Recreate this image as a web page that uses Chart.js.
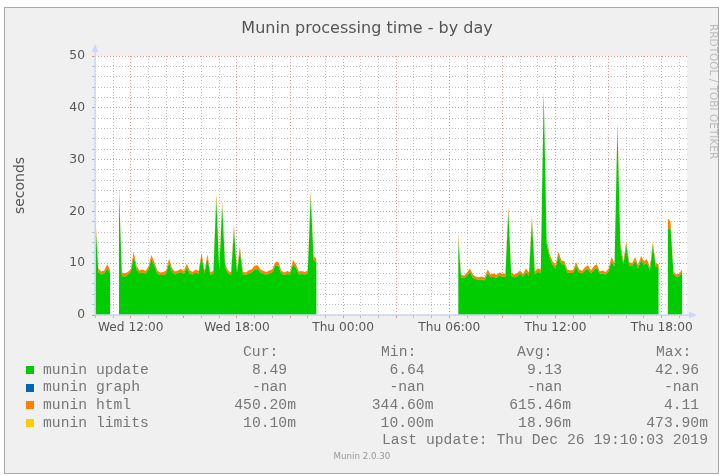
<!DOCTYPE html>
<html>
<head>
<meta charset="utf-8">
<script src="https://cdn.jsdelivr.net/npm/chart.js@4/dist/chart.umd.min.js"></script>
<style>
  body { margin: 0; background: #fff; }
  #page { position: relative; width: 719px; height: 476px; overflow: hidden; }
  #frame { position: absolute; left: 4px; top: 7px; width: 713px; height: 465px; background: #f0f0f0; border: 1px solid #a8a8a8; }
  canvas { position: absolute; left: 0; top: 0; }
  .txt { position: absolute; white-space: pre; color: #666; }
  .title { left: 0; width: 734px; top: 18px; text-align: center; font: 16px 'DejaVu Sans'; color: #555; }
  .mono { font: 14.7px 'Liberation Mono'; line-height: 17px; color: #777; }
  .box { position: absolute; width: 8px; height: 8px; }
  .wm { font: 10.5px 'DejaVu Sans'; color: #bbb; line-height: 11px; transform-origin: 0 0; transform: rotate(90deg); }
  .ver { font: 8.7px 'DejaVu Sans'; color: #999; }
</style>
</head>
<body>
<div id="page">
  <div id="frame"></div>
  <canvas id="chart" width="719" height="476"></canvas>
  <div class="txt title">Munin processing time - by day</div>
  <div class="txt wm" style="left:719px; top:24px;">RRDTOOL / TOBI OETIKER</div>
  <div id="legend"></div>
</div>
<script>
// 10-minute samples, hours counted from Wed 00:00
const stepH = 1 / 6;
const wedStart = 10;     // Wed 10:00
const thuStart = 30.5;   // Thu 06:30

const seriesNames = ['munin update', 'munin graph', 'munin html', 'munin limits'];
const seriesColors = ['#00CC00', '#0066B3', '#FF8000', '#FFCC00'];

const updateWed = [18.1, 8.3, 7.8, 8.0, 9.0, 8.1, null, null, 24.2, 7.6,
  7.4, 7.8, 8.2, 11.3, 8.7, 8.0, 8.2, 8.0, 8.7, 10.8,
  9.5, 8.0, 7.7, 7.7, 8.0, 10.1, 8.3, 7.8, 8.1, 8.3,
  7.9, 9.2, 8.0, 7.8, 8.2, 7.9, 11.3, 8.0, 10.9, 7.7,
  8.0, 22.3, 8.6, 21.0, 9.1, 8.0, 7.7, 16.4, 8.1, 12.3,
  7.8, 7.7, 8.0, 8.2, 8.8, 8.9, 8.2, 7.9, 7.8, 8.0,
  8.2, 9.5, 9.6, 8.0, 7.7, 7.9, 7.8, 9.8, 9.1, 7.8,
  7.9, 7.8, 8.0, 22.7, 10.6, 10.1];
const updateThu = [14.3, 7.3, 7.1, 7.6, 8.3, 7.2, 6.9, 6.8, 6.9, 6.64,
  8.1, 7.3, 7.4, 7.2, 7.6, 7.4, 7.4, 20.0, 7.6, 7.3,
  7.5, 8.0, 7.4, 8.3, 7.6, 18.0, 7.8, 8.3, 8.2, 42.96,
  13.7, 11.1, 9.7, 9.0, 11.4, 9.8, 9.8, 8.2, 8.1, 8.1,
  9.5, 8.2, 8.0, 8.6, 8.9, 8.0, 8.7, 9.1, 7.9, 8.0,
  7.8, 8.4, 10.4, 9.3, 36.3, 13.1, 9.7, 13.3, 9.5, 9.4,
  10.5, 9.0, 10.6, 9.7, 10.1, 8.6, 13.2, 9.3, 9.2, null,
  null, 16.5, 16.8, 7.9, 7.35, 7.5, 8.49];

const graphWed = [];
const graphThu = [];

const htmlWed = [0.9, 0.7, 0.6, 0.6, 0.8, 0.6, null, null, 0.8, 0.6,
  0.6, 0.5, 0.6, 0.9, 0.7, 0.6, 0.6, 0.5, 0.6, 0.8,
  0.7, 0.6, 0.5, 0.6, 0.6, 0.8, 0.7, 0.6, 0.5, 0.6,
  0.6, 0.7, 0.6, 0.5, 0.6, 0.6, 0.7, 0.6, 0.8, 0.5,
  0.6, 1.2, 0.7, 1.0, 0.7, 0.6, 0.5, 1.0, 0.6, 0.9,
  0.6, 0.5, 0.6, 0.6, 0.7, 0.7, 0.6, 0.6, 0.5, 0.6,
  0.6, 0.7, 0.7, 0.6, 0.5, 0.6, 0.5, 0.8, 0.7, 0.6,
  0.6, 0.5, 0.6, 1.1, 0.8, 0.7];
const htmlThu = [1.5, 0.5, 0.5, 0.6, 0.7, 0.6, 0.5, 0.5, 0.5, 0.6,
  0.7, 0.5, 0.6, 0.5, 0.6, 0.5, 0.6, 0.9, 0.6, 0.5,
  0.6, 0.6, 0.5, 0.7, 0.6, 1.3, 0.6, 0.7, 0.6, 0.44,
  0.8, 0.7, 0.7, 0.6, 0.8, 0.7, 0.6, 0.6, 0.5, 0.6,
  0.7, 0.6, 0.5, 0.6, 0.7, 0.6, 0.7, 0.7, 0.5, 0.6,
  0.5, 0.6, 0.8, 0.7, 1.0, 0.8, 0.7, 0.8, 0.7, 0.6,
  0.7, 0.6, 0.8, 0.7, 0.7, 0.6, 0.9, 0.7, 0.6, null,
  null, 2.2, 1.2, 0.5, 0.45, 0.5, 0.45];

const limitsWed = [0.47, 0.02, 0.01, 0.01, 0.02, 0.01, null, null, 0.03, 0.01,
  0.01, 0.01, 0.02, 0.01, 0.01, 0.01, 0.02, 0.01, 0.01, 0.01,
  0.02, 0.01, 0.01, 0.01, 0.01, 0.02, 0.01, 0.01, 0.01, 0.02,
  0.01, 0.01, 0.01, 0.02, 0.01, 0.01, 0.01, 0.01, 0.02, 0.01,
  0.01, 0.03, 0.01, 0.02, 0.01, 0.01, 0.01, 0.02, 0.01, 0.01,
  0.01, 0.01, 0.02, 0.01, 0.01, 0.01, 0.01, 0.02, 0.01, 0.01,
  0.01, 0.02, 0.01, 0.01, 0.01, 0.01, 0.02, 0.01, 0.01, 0.01,
  0.01, 0.01, 0.02, 0.03, 0.01, 0.01];
const limitsThu = [0.05, 0.01, 0.01, 0.02, 0.01, 0.01, 0.01, 0.01, 0.02, 0.01,
  0.01, 0.01, 0.01, 0.02, 0.01, 0.01, 0.01, 0.03, 0.01, 0.01,
  0.02, 0.01, 0.01, 0.01, 0.01, 0.03, 0.01, 0.02, 0.01, 0.04,
  0.02, 0.01, 0.01, 0.01, 0.02, 0.01, 0.01, 0.01, 0.01, 0.02,
  0.01, 0.01, 0.01, 0.02, 0.01, 0.01, 0.01, 0.01, 0.02, 0.01,
  0.01, 0.01, 0.02, 0.01, 0.03, 0.02, 0.01, 0.02, 0.01, 0.01,
  0.01, 0.01, 0.02, 0.01, 0.01, 0.01, 0.02, 0.01, 0.01, null,
  null, 0.06, 0.04, 0.01, 0.01, 0.01, 0.0101];

// x axis labels (hour of the 2-day window -> text)
const tickHours = [12, 18, 24, 30, 36, 42];
const tickLabels = ['Wed 12:00', 'Wed 18:00', 'Thu 00:00', 'Thu 06:00', 'Thu 12:00', 'Thu 18:00'];

// legend table
const colHeads = ['Cur:', 'Min:', 'Avg:', 'Max:'];
const curValues = ['8.49 ', '-nan ', '450.20m', '10.10m'];
const minValues = ['6.64 ', '-nan ', '344.60m', '10.00m'];
const avgValues = ['9.13 ', '-nan ', '615.46m', '18.96m'];
const maxValues = ['42.96 ', '-nan ', '4.11 ', '473.90m'];
const lastUpdate = 'Last update: Thu Dec 26 19:10:03 2019';

function points(wed, thu) {
  const pts = wed.map((v, i) => ({ x: wedStart + i * stepH, y: v }));
  if (wed.length) pts.push({ x: 27, y: null });   // no samples overnight
  thu.forEach((v, i) => pts.push({ x: thuStart + i * stepH, y: v }));
  return pts;
}

const RED = 'rgba(235,110,110,0.75)';
const GREY = 'rgba(170,170,170,0.75)';
const AXIS = '#CFD6F8';

const munin = {
  id: 'munin',
  beforeDraw(chart) {
    const { ctx, chartArea: a } = chart;
    ctx.save();
    ctx.fillStyle = '#fff';
    ctx.fillRect(a.left, a.top, a.right - a.left, a.bottom - a.top);
    ctx.restore();
  },
  afterDatasetsDraw(chart) {
    const { ctx, chartArea: a } = chart;
    ctx.save();
    ctx.strokeStyle = AXIS;
    ctx.fillStyle = AXIS;
    ctx.lineWidth = 1.5;
    ctx.beginPath();
    ctx.moveTo(a.left, a.bottom);
    ctx.lineTo(a.left, a.top - 6);
    ctx.moveTo(a.left, a.bottom);
    ctx.lineTo(a.right + 3, a.bottom);
    ctx.stroke();
    ctx.beginPath();
    ctx.moveTo(a.left, a.top - 12);
    ctx.lineTo(a.left - 3.5, a.top - 4);
    ctx.lineTo(a.left + 3.5, a.top - 4);
    ctx.fill();
    ctx.beginPath();
    ctx.moveTo(a.right + 10, a.bottom);
    ctx.lineTo(a.right + 2, a.bottom - 3.5);
    ctx.lineTo(a.right + 2, a.bottom + 3.5);
    ctx.fill();
    ctx.restore();
  }
};

Chart.defaults.font.family = 'DejaVu Sans';

new Chart(document.getElementById('chart'), {
  type: 'line',
  data: {
    datasets: [
      { label: seriesNames[0], data: points(updateWed, updateThu), backgroundColor: seriesColors[0], fill: 'origin' },
      { label: seriesNames[1], data: points(graphWed, graphThu), backgroundColor: seriesColors[1], fill: false },
      { label: seriesNames[2], data: points(htmlWed, htmlThu), backgroundColor: seriesColors[2], fill: 0 },
      { label: seriesNames[3], data: points(limitsWed, limitsThu), backgroundColor: seriesColors[3], fill: 2 }
    ]
  },
  options: {
    responsive: false,
    animation: false,
    spanGaps: false,
    elements: { point: { radius: 0 }, line: { borderWidth: 0, tension: 0 } },
    layout: { padding: { left: 12, top: 56, right: 32, bottom: 136 } },
    plugins: { legend: { display: false }, tooltip: { enabled: false } },
    scales: {
      x: {
        type: 'linear',
        min: 9.98,
        max: 43.43,
        afterBuildTicks: s => {
          const t = [];
          for (let h = 10; h <= 43; h++) t.push({ value: h });
          s.ticks = t;
        },
        afterFit: s => { s.height = 25; },
        grid: {
          color: c => (c.tick.value % 3 === 0 ? RED : GREY),
          tickColor: c => (c.tick.value % 3 === 0 ? RED : GREY),
          tickLength: 3
        },
        border: { display: false, dash: [1, 2] },
        ticks: {
          autoSkip: false,
          maxRotation: 0,
          padding: 3,
          color: '#555',
          font: { size: 12.2 },
          callback: v => {
            const k = tickHours.indexOf(v);
            return k >= 0 ? tickLabels[k] : '';
          }
        }
      },
      y: {
        stacked: true,
        min: 0,
        max: 50,
        afterFit: s => { s.width = 83; },
        title: { display: true, text: 'seconds', color: '#555', font: { size: 14 }, padding: { top: 0, bottom: 0 } },
        grid: {
          color: c => (c.tick.value % 10 === 0 ? RED : GREY),
          tickColor: c => (c.tick.value % 10 === 0 ? RED : GREY),
          tickLength: 3
        },
        border: { display: false, dash: [1, 2] },
        ticks: {
          stepSize: 2,
          autoSkip: false,
          padding: 7,
          color: '#555',
          font: { size: 12.3 },
          callback: v => (v % 10 === 0 ? v : '')
        }
      }
    }
  },
  plugins: [munin]
});

// legend block under the plot
const legend = document.getElementById('legend');
function put(cls, text, css) {
  const d = document.createElement('div');
  d.className = 'txt ' + cls;
  d.textContent = text;
  d.style.cssText = css;
  legend.appendChild(d);
}
const headLeft = [243, 381, 517, 656];
const colRight = [296, 433.5, 571, 708];
const rowTop = [361.5, 379, 396.5, 414.5];
colHeads.forEach((h, k) => put('mono', h, `left:${headLeft[k]}px; top:344px;`));
seriesNames.forEach((name, r) => {
  const box = document.createElement('div');
  box.className = 'box';
  box.style.cssText = `left:26px; top:${rowTop[r] + 4.5}px; background:${seriesColors[r]};`;
  legend.appendChild(box);
  put('mono', name, `left:43px; top:${rowTop[r]}px;`);
  [curValues, minValues, avgValues, maxValues].forEach((col, k) => {
    put('mono', col[r], `right:${719 - colRight[k]}px; top:${rowTop[r]}px;`);
  });
});
put('mono', lastUpdate, `right:${719 - 708}px; top:432px;`);
put('ver', 'Munin 2.0.30', 'left:0; width:724px; text-align:center; top:451px;');
</script>
</body>
</html>
